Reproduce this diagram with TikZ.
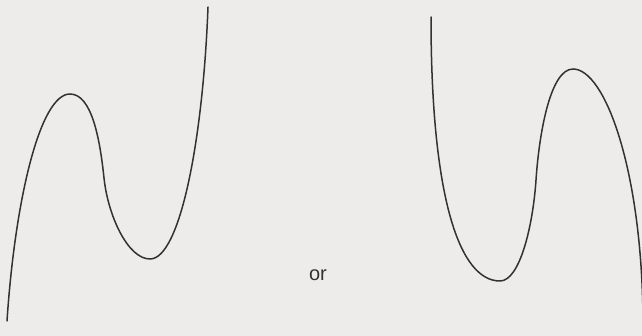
\documentclass[tikz,border=0pt]{standalone}
\usepackage{fontspec}
\setmainfont{Liberation Sans}
\definecolor{paper}{RGB}{238,236,234}
\definecolor{ink}{RGB}{50,50,50}
\tikzset{curve/.style={draw=ink, line width=1.5pt, line cap=round, line join=round},
  label/.style={text=ink, font=\fontsize{20}{24}\selectfont, inner sep=0pt}}
\begin{document}
\begin{tikzpicture}[x=1pt,y=-1pt]
\fill[paper] (0,0) rectangle (642,336);
\useasboundingbox (0,0) rectangle (642,336);
\clip (0,0) rectangle (642,336);
% left curve
\coordinate (la) at (7,321);
\coordinate (lb) at (70,94);
\coordinate (lc) at (104,178);
\coordinate (ld) at (150,259);
\coordinate (le) at (208,7);
\draw[curve] (la) .. controls (15,200) and (40,94) .. (lb)
  .. controls (92,94) and (100,140) .. (lc)
  .. controls (108,216) and (128,259) .. (ld)
  .. controls (180,259) and (203,140) .. (le);
% right curve
\coordinate (ra) at (431,17);
\coordinate (rb) at (500,281);
\coordinate (rc) at (536,180);
\coordinate (rd) at (573,69);
\coordinate (re) at (643,320);
\draw[curve] (ra) .. controls (431,200) and (460,281) .. (rb)
  .. controls (520,281) and (533,225) .. (rc)
  .. controls (539,135) and (550,69) .. (rd)
  .. controls (605,69) and (642,170) .. (re);
\node[label] (or) at (318,275) {or};
\end{tikzpicture}
\end{document}
